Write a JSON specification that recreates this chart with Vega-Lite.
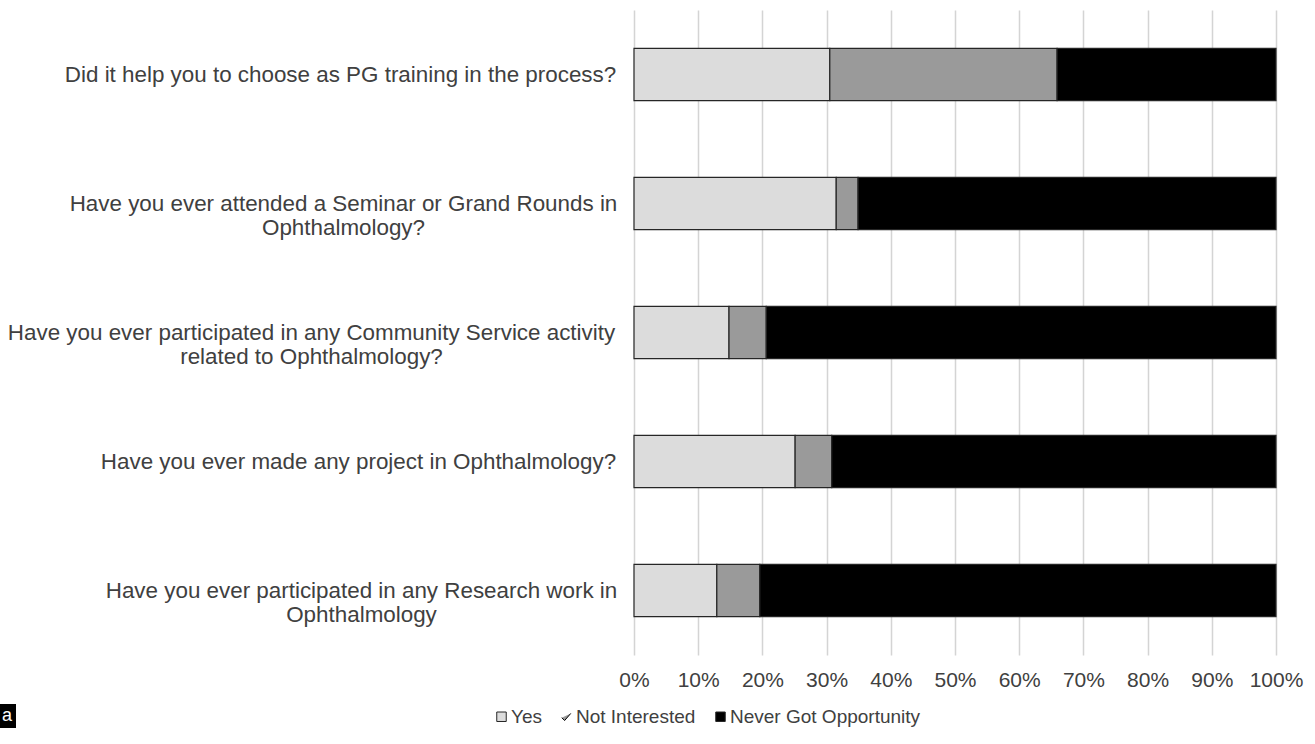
{
  "$schema": "https://vega.github.io/schema/vega-lite/v6.json",
  "autosize": {"type": "none"},
  "padding": {"left": 634, "top": 10, "right": 39, "bottom": 89},
  "width": 642,
  "height": 645,
  "background": "white",
  "config": {
    "font": "Liberation Sans",
    "view": {"stroke": null}
  },
  "data": {
    "values": [
      {"q": "Did it help you to choose as PG training in the process?", "order": 1, "resp": "Yes", "ri": 1, "v": 30.5},
      {"q": "Did it help you to choose as PG training in the process?", "order": 1, "resp": "Not Interested", "ri": 2, "v": 35.4},
      {"q": "Did it help you to choose as PG training in the process?", "order": 1, "resp": "Never Got Opportunity", "ri": 3, "v": 34.1},
      {"q": "Have you ever attended a Seminar or Grand Rounds in|Ophthalmology?", "order": 2, "resp": "Yes", "ri": 1, "v": 31.5},
      {"q": "Have you ever attended a Seminar or Grand Rounds in|Ophthalmology?", "order": 2, "resp": "Not Interested", "ri": 2, "v": 3.4},
      {"q": "Have you ever attended a Seminar or Grand Rounds in|Ophthalmology?", "order": 2, "resp": "Never Got Opportunity", "ri": 3, "v": 65.1},
      {"q": "Have you ever participated in any Community Service activity|related to Ophthalmology?", "order": 3, "resp": "Yes", "ri": 1, "v": 14.8},
      {"q": "Have you ever participated in any Community Service activity|related to Ophthalmology?", "order": 3, "resp": "Not Interested", "ri": 2, "v": 5.8},
      {"q": "Have you ever participated in any Community Service activity|related to Ophthalmology?", "order": 3, "resp": "Never Got Opportunity", "ri": 3, "v": 79.4},
      {"q": "Have you ever made any project in Ophthalmology?", "order": 4, "resp": "Yes", "ri": 1, "v": 25.1},
      {"q": "Have you ever made any project in Ophthalmology?", "order": 4, "resp": "Not Interested", "ri": 2, "v": 5.7},
      {"q": "Have you ever made any project in Ophthalmology?", "order": 4, "resp": "Never Got Opportunity", "ri": 3, "v": 69.2},
      {"q": "Have you ever participated in any Research work in|Ophthalmology", "order": 5, "resp": "Yes", "ri": 1, "v": 12.9},
      {"q": "Have you ever participated in any Research work in|Ophthalmology", "order": 5, "resp": "Not Interested", "ri": 2, "v": 6.7},
      {"q": "Have you ever participated in any Research work in|Ophthalmology", "order": 5, "resp": "Never Got Opportunity", "ri": 3, "v": 80.4}
    ]
  },
  "layer": [
    {
      "mark": {"type": "bar", "stroke": "#262626", "strokeWidth": 1.2},
      "encoding": {
        "y": {
          "field": "q",
          "type": "nominal",
          "sort": [
            "Did it help you to choose as PG training in the process?",
            "Have you ever attended a Seminar or Grand Rounds in|Ophthalmology?",
            "Have you ever participated in any Community Service activity|related to Ophthalmology?",
            "Have you ever made any project in Ophthalmology?",
            "Have you ever participated in any Research work in|Ophthalmology"
          ],
          "scale": {"paddingInner": 0.595, "paddingOuter": 0.2975},
          "axis": {
            "title": null,
            "domain": false,
            "ticks": false,
            "labelExpr": "split(datum.value, '|')",
            "labelAlign": "center",
            "labelBaseline": "middle",
            "labelPadding": {
              "condition": [
                {"test": "indexof(datum.value, 'Community') >= 0", "value": 323},
                {"test": "indexof(datum.value, 'project') >= 0", "value": 276},
                {"test": "indexof(datum.value, 'Research') >= 0", "value": 273},
                {"test": "indexof(datum.value, 'Did it') >= 0", "value": 294}
              ],
              "value": 291
            },
            "labelFontSize": 22.4,
            "labelColor": "#404040",
            "labelLineHeight": 24,
            "labelLimit": 800
          }
        },
        "x": {
          "field": "v",
          "type": "quantitative",
          "stack": "normalize",
          "scale": {"domain": [0, 1]},
          "axis": {
            "title": null,
            "format": ".0%",
            "values": [0, 0.1, 0.2, 0.3, 0.4, 0.5, 0.6, 0.7, 0.8, 0.9, 1],
            "domain": false,
            "ticks": false,
            "labelOverlap": false,
            "labelFlush": false,
            "labelFontSize": 21,
            "labelColor": "#404040",
            "labelPadding": 14,
            "grid": true,
            "gridColor": "#d4d4d4",
            "gridWidth": 1.5
          }
        },
        "color": {
          "field": "resp",
          "type": "nominal",
          "sort": ["Yes", "Not Interested", "Never Got Opportunity"],
          "scale": {
            "domain": ["Yes", "Not Interested", "Never Got Opportunity"],
            "range": ["#dcdcdc", "#9a9a9a", "#000000"]
          },
          "legend": {
            "title": null,
            "orient": "none",
            "direction": "horizontal",
            "legendX": -142,
            "legendY": 697,
            "labelFontSize": 19,
            "labelColor": "#404040",
            "labelLimit": 400,
            "symbolType": "square",
            "symbolSize": 90,
            "symbolStrokeColor": "#262626",
            "symbolStrokeWidth": 1,
            "labelOffset": 0,
            "columnPadding": 15,
            "encode": {
              "symbols": {
                "update": {
                  "shape": {"signal": "datum.value === 'Not Interested' ? 'M-1,0.2L-0.4,0.8L0.9,-0.7' : 'square'"},
                  "fill": {"signal": "datum.value === 'Not Interested' ? 'transparent' : datum.value === 'Yes' ? '#dcdcdc' : '#000000'"},
                  "stroke": {"signal": "datum.value === 'Not Interested' ? '#000000' : '#262626'"}
                }
              }
            }
          }
        },
        "order": {"field": "ri", "type": "quantitative"}
      }
    },
    {
      "transform": [{"filter": "datum.order === 1 && datum.ri === 1"}],
      "mark": {"type": "point", "opacity": 0},
      "encoding": {
        "x": {"datum": 0, "type": "quantitative"},
        "shape": {
          "datum": "a",
          "scale": {"range": ["square"]},
          "legend": {
            "title": null,
            "orient": "none",
            "legendX": -653,
            "legendY": 694,
            "fillColor": "#000000",
            "padding": 3,
            "symbolOpacity": 0,
            "symbolSize": 1,
            "symbolStrokeWidth": 0,
            "labelOffset": 0,
            "labelColor": "#ffffff",
            "labelFontSize": 18
          }
        }
      }
    }
  ]
}
